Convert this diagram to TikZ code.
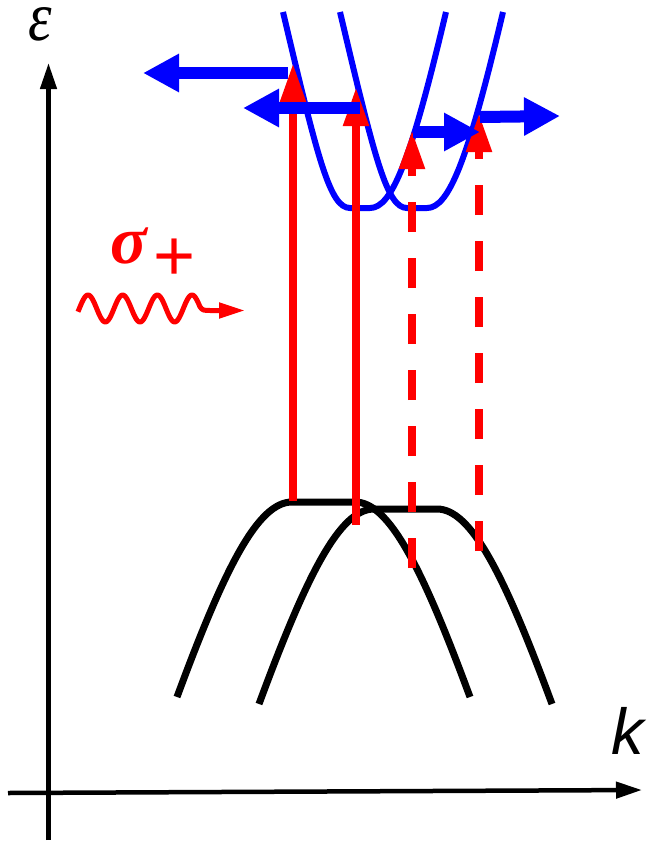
\documentclass[tikz,border=0pt]{standalone}
\usepackage{fontspec}
\newfontfamily\lsans{Liberation Sans}
\newfontfamily\lserif{Liberation Serif}
\usetikzlibrary{arrows.meta}
\begin{document}
\begin{tikzpicture}[x=1pt,y=-1pt,
  axis/.style={line width=4.5pt,black,-{Triangle[width=16pt,length=26pt]}},
  vband/.style={line width=7pt,black},
  cband/.style={line width=6pt,blue},
  excite/.style={line width=8pt,red,-{Triangle[width=24pt,length=39pt]}},
  dexcite/.style={excite,dash pattern=on 30pt off 26pt},
  drift/.style={line width=12pt,blue,-{Triangle[width=36pt,length=36pt]}},
  photon/.style={line width=5pt,red,line join=round,-{Triangle[width=15pt,length=26pt]}}]
\useasboundingbox (0,0) rectangle (646,841);
% axes
\coordinate (yb) at (48.5,840);
\coordinate (yt) at (48.5,63);
\coordinate (xl) at (8,793);
\coordinate (xr) at (642,790);
\draw[axis] (yb) -- (yt);
\draw[axis] (xl) -- (xr);
\node[anchor=base,inner sep=0pt,text height=32pt,text depth=0pt,font=\fontsize{70}{70}\selectfont\lserif\itshape] (eps) at (40,40) {\scalebox{0.85}[1]{ε}};
\node[font=\fontsize{65}{65}\selectfont\lsans\itshape] (k) at (628,731) {k};
% valence bands
\draw[vband] (177,697) .. controls (225,567) and (258,502) .. (292,502) -- (355,502) .. controls (389,502) and (422,567) .. (470,697);
\draw[vband] (259,704) .. controls (307,574) and (340,509) .. (374,509) -- (437,509) .. controls (471,509) and (504,574) .. (552,704);
% conduction bands
\draw[cband] (283,12) .. controls (318,160) and (330,208) .. (350,208) -- (370,208) .. controls (392,208) and (411,160) .. (446,12);
\draw[cband] (340,12) .. controls (375,160) and (387,208) .. (407,208) -- (427,208) .. controls (449,208) and (468,160) .. (503,12);
% optical transitions
\coordinate (a1) at (293,501); \coordinate (b1) at (293,63);
\coordinate (a2) at (356,525); \coordinate (b2) at (356,87);
\coordinate (a3) at (412,568); \coordinate (b3) at (412,130);
\coordinate (a4) at (479,551); \coordinate (b4) at (479,113);
\draw[excite] (a1) -- (b1);
\draw[excite] (a2) -- (b2);
\draw[dexcite] (a3) -- (b3);
\draw[dexcite] (a4) -- (b4);
% drift arrows
\coordinate (c1) at (288,73); \coordinate (d1) at (143,73);
\coordinate (c2) at (360,108); \coordinate (d2) at (243,108);
\coordinate (c3) at (413,132); \coordinate (d3) at (480,132);
\coordinate (c4) at (480,117); \coordinate (d4) at (560,116);
\draw[drift] (c1) -- (d1);
\draw[drift] (c2) -- (d2);
\draw[drift] (c3) -- (d3);
\draw[drift] (c4) -- (d4);
% sigma+ photon
\node[text=red,font=\fontsize{68}{68}\selectfont\lserif\bfseries\itshape] (sig) at (129,246) {σ};
\node[text=red,font=\fontsize{72}{72}\selectfont\lsans] (plus) at (175,260) {+};
\coordinate (pend) at (245,310.5);
\draw[photon] plot[domain=78:200,samples=120,smooth] (\x,{308.5-13.5*sin(90+(\x-88)*10.385)}) .. controls (203,310.5) .. (212,310.5) -- (pend);
\end{tikzpicture}
\end{document}
